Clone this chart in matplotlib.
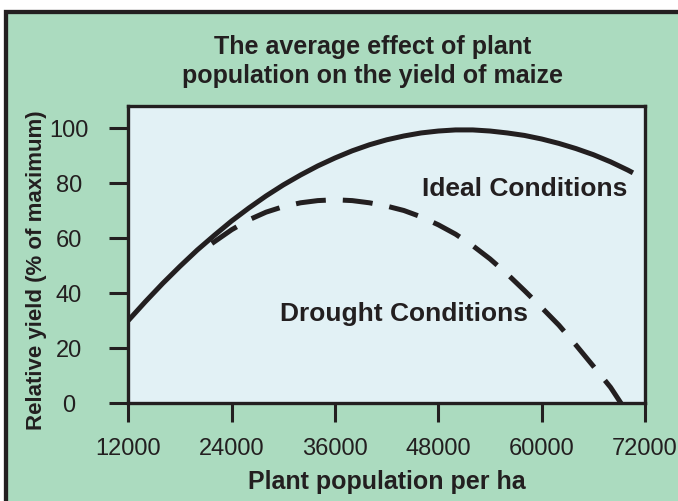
import matplotlib
matplotlib.use('Agg')
import matplotlib.pyplot as plt
from matplotlib.patches import Rectangle

# values
population_ideal = [12000, 14000, 16000, 18000, 20000, 22000, 24000, 26000, 28000, 30000,
                    32000, 34000, 36000, 38000, 40000, 42000, 44000, 46000, 48000, 50000,
                    52000, 54000, 56000, 58000, 60000, 62000, 64000, 66000, 68000, 70000, 70600]
yield_ideal = [30.0, 36.9, 43.5, 49.7, 55.6, 61.0, 66.2, 70.9, 75.3, 79.3,
               82.9, 86.2, 89.1, 91.7, 93.9, 95.7, 97.1, 98.2, 98.9, 99.3,
               99.3, 98.9, 98.2, 97.3, 96.0, 94.4, 92.5, 90.3, 87.7, 84.7, 83.7]

population_drought = [21700, 24000, 26000, 28000, 30000, 32000, 34000, 36000, 38000, 40000,
                      42000, 44000, 46000, 48000, 50000, 52000, 54000, 56000, 58000, 60000,
                      62000, 64000, 66000, 68000, 69300]
yield_drought = [58.0, 63.0, 66.6, 69.4, 71.4, 72.8, 73.6, 73.9, 73.6, 72.8,
                 71.6, 70.0, 67.7, 64.8, 61.4, 57.2, 52.4, 46.9, 40.9, 34.7,
                 28.3, 21.0, 13.4, 5.7, -0.5]

x_ticks = [12000, 24000, 36000, 48000, 60000, 72000]
y_ticks = [0, 20, 40, 60, 80, 100]

GREEN = '#abdbbf'
PANEL = '#e2f1f5'
INK = '#231f20'
W, H = 678, 502

plt.rcParams['font.family'] = ['Liberation Sans', 'DejaVu Sans']

fig = plt.figure(figsize=(W / 100, H / 100), dpi=100)
fig.patch.set_facecolor('white')

# green framed background
fig.add_artist(Rectangle((6.2 / W, -0.1), 1.2, 1 - 12.7 / H + 0.1, transform=fig.transFigure,
                         facecolor=GREEN, edgecolor=INK, linewidth=3.1, zorder=0))

ax = fig.add_axes([128.3 / W, 1 - 404 / H, (645 - 128.3) / W, (404 - 107) / H])
ax.set_facecolor(PANEL)

ax.plot(population_ideal, yield_ideal, color=INK, lw=3.6, solid_capstyle='butt',
        solid_joinstyle='round')
ax.plot(population_drought, yield_drought, color=INK, lw=3.6, dashes=(6, 3.4),
        dash_capstyle='butt', dash_joinstyle='round')

ax.set_xlim(12000, 72000)
ax.set_ylim(0, 108)
ax.set_xticks(x_ticks)
ax.set_yticks(y_ticks)

for s in ax.spines.values():
    s.set_linewidth(2.4)
    s.set_color(INK)

ax.tick_params(axis='both', direction='out', length=13.7, width=2.2, color=INK,
               labelsize=17, labelcolor=INK)
ax.tick_params(axis='x', pad=11)
ax.tick_params(axis='y', pad=29)
for lbl in ax.get_yticklabels():
    lbl.set_horizontalalignment('center')

ax.text(69920, 75.6, 'Ideal Conditions', ha='right', va='baseline',
        fontsize=19, fontweight='bold', color=INK)
ax.text(29620, 30.3, 'Drought Conditions', ha='left', va='baseline',
        fontsize=19, fontweight='bold', color=INK)

# titles and axis labels
fig.text(373 / W, 1 - 54 / H, 'The average effect of plant', ha='center', va='baseline',
         fontsize=18, fontweight='bold', color=INK)
fig.text(373 / W, 1 - 83.3 / H, 'population on the yield of maize', ha='center', va='baseline',
         fontsize=18, fontweight='bold', color=INK)
fig.text(387 / W, 1 - 489 / H, 'Plant population per ha', ha='center', va='baseline',
         fontsize=18, fontweight='bold', color=INK)
fig.text(41.7 / W, 1 - 270 / H, 'Relative yield (% of maximum)', rotation=90,
         rotation_mode='anchor', ha='center', va='baseline',
         fontsize=16, fontweight='bold', color=INK)

fig.savefig('out.png', dpi=100)
